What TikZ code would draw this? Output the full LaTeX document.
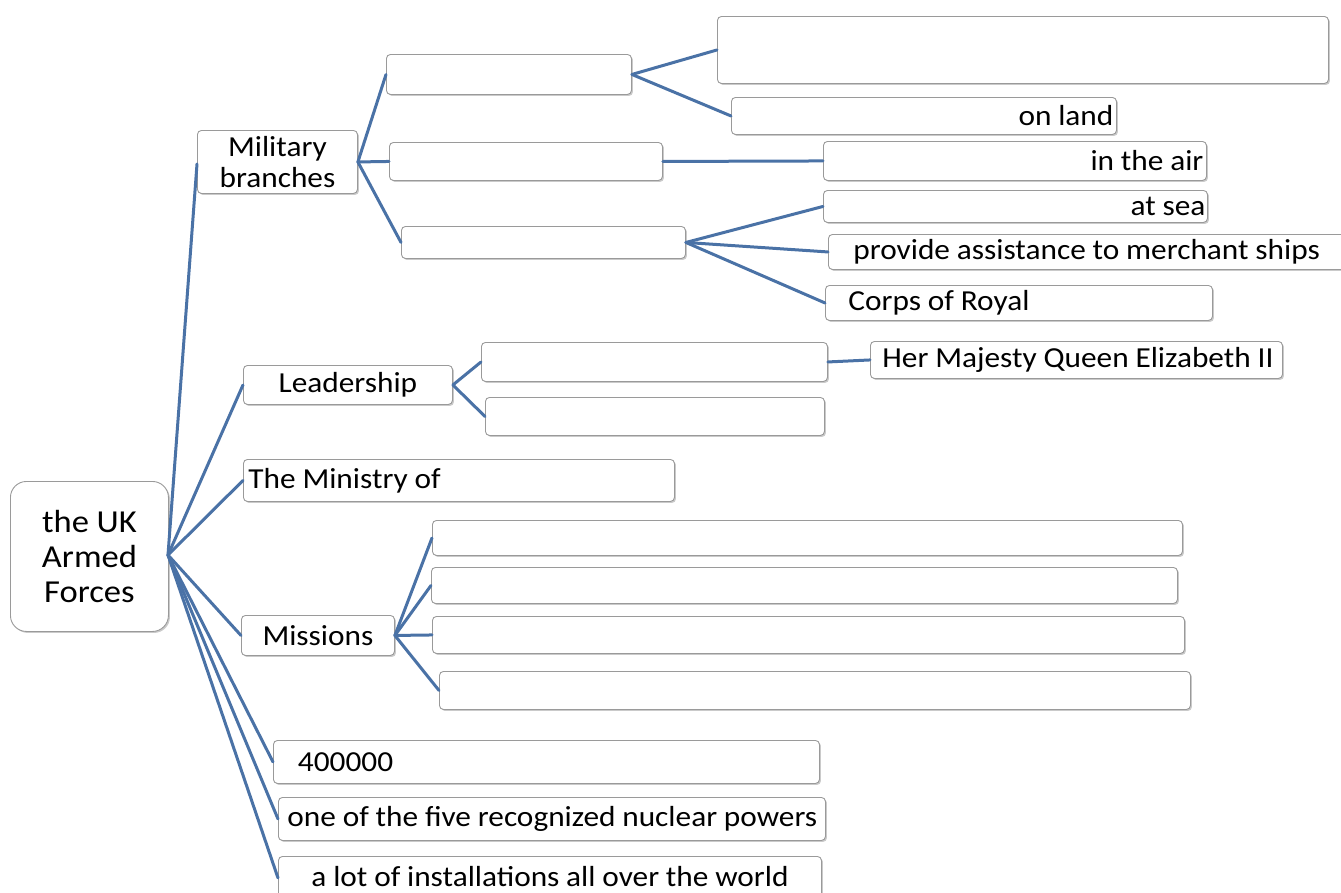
\documentclass[tikz,border=0pt]{standalone}
\usepackage{fontspec}
\setmainfont{Carlito}[FakeStretch=1.08]
\usetikzlibrary{shadows}
\definecolor{lnk}{HTML}{4A72A6}
\definecolor{bord}{HTML}{9A9A9A}
\newcommand{\tightsp}{\spaceskip=0.235em plus 0.02em minus 0.02em\relax}
\tikzset{
  bx/.style={draw=bord, line width=0.9pt, fill=white, rounded corners=4pt, anchor=north west,
    inner ysep=0pt, font=\fontsize{29}{31}\selectfont, execute at begin node={\tightsp},
    drop shadow={shadow xshift=1.5pt, shadow yshift=-1.5pt, fill=black!35, opacity=0.6}},
  lk/.style={draw=lnk, line width=3pt, line cap=round},
}
\begin{document}
\begin{tikzpicture}[x=1pt,y=-1pt]
\useasboundingbox (0,0) rectangle (1341,892);
% center
\node[bx, rounded corners=16pt, minimum width=158pt, minimum height=150pt, text width=140pt, inner xsep=9pt, align=center, font=\fontsize{32}{35}\selectfont] (c) at (10,481) {the UK\\Armed\\Forces};
% level 1
\node[bx, minimum width=160pt, minimum height=63pt, text width=150pt, inner xsep=5pt, align=center] (mb) at (197,130) {Military\\branches};
\node[bx, minimum width=209pt, minimum height=39pt, text width=199pt, inner xsep=5pt, align=center] (ld) at (243,365) {Leadership};
\node[bx, minimum width=431pt, minimum height=42pt, text width=421pt, inner xsep=5pt, align=left] (mo) at (243,459) {\mbox{The Ministry of}};
\node[bx, minimum width=153pt, minimum height=40pt, text width=143pt, inner xsep=5pt, align=center] (mi) at (241,615) {Missions};
\node[bx, minimum width=546pt, minimum height=43pt, text width=521pt, inner xsep=12.5pt, align=left] (n4) at (273,740) {\mbox{\hspace*{12pt}400000}};
\node[bx, minimum width=547pt, minimum height=43pt, text width=537pt, inner xsep=5pt, align=left] (nu) at (278,797) {\mbox{\hspace*{4pt}one of the five recognized nuclear powers}};
\node[bx, minimum width=543pt, minimum height=43pt, text width=533pt, inner xsep=5pt, align=left] (in) at (278,856) {\raisebox{3pt}{\hspace*{28pt}a lot of installations all over the world}};
% military branches children
\node[bx, minimum width=245pt, minimum height=40pt, text width=235pt, inner xsep=5pt] (a1) at (386,54) {};
\node[bx, minimum width=273pt, minimum height=38pt, text width=263pt, inner xsep=5pt] (a2) at (389,142) {};
\node[bx, minimum width=284pt, minimum height=32pt, text width=274pt, inner xsep=5pt] (a3) at (401,226) {};
% army children
\node[bx, minimum width=611pt, minimum height=67pt, text width=601pt, inner xsep=5pt] (big) at (717,16) {};
\node[bx, minimum width=385pt, minimum height=37pt, text width=379pt, inner xsep=3pt, align=right] (land) at (731,97) {\tightsp\mbox{on land}};
\node[bx, minimum width=383pt, minimum height=39pt, text width=377pt, inner xsep=3pt, align=right] (air) at (823,141) {\tightsp\mbox{in the air}};
\node[bx, minimum width=384pt, minimum height=32pt, text width=380pt, inner xsep=2pt, align=right] (sea) at (823,190) {\tightsp\mbox{at sea}};
\node[bx, minimum width=520pt, minimum height=35pt, text width=500pt, inner xsep=10pt, align=left] (pa) at (828,234) {\mbox{\hspace*{15pt}provide assistance to merchant ships}};
\node[bx, minimum width=387pt, minimum height=35pt, text width=367pt, inner xsep=10pt, align=left] (cr) at (825,285) {\mbox{\hspace*{13pt}Corps of Royal}};
% leadership children
\node[bx, minimum width=346pt, minimum height=39pt, text width=336pt, inner xsep=5pt] (l1) at (481,342) {};
\node[bx, minimum width=339pt, minimum height=38pt, text width=329pt, inner xsep=5pt] (l2) at (485,397) {};
\node[bx, minimum width=412pt, minimum height=37pt, text width=400pt, inner xsep=6pt, align=left] (hm) at (870,341) {\mbox{\hspace*{6pt}Her Majesty Queen Elizabeth II}};
% missions children
\node[bx, minimum width=750pt, minimum height=35pt, text width=740pt, inner xsep=5pt] (m1) at (432,520) {};
\node[bx, minimum width=746pt, minimum height=36pt, text width=736pt, inner xsep=5pt] (m2) at (431,567) {};
\node[bx, minimum width=752pt, minimum height=37pt, text width=742pt, inner xsep=5pt] (m3) at (432,616) {};
\node[bx, minimum width=751pt, minimum height=38pt, text width=741pt, inner xsep=5pt] (m4) at (439,671) {};
% connectors
\coordinate (cr0) at (168,555);
\draw[lk] (cr0) -- ([yshift=-2pt]mb.west);
\draw[lk] (cr0) -- (ld.west);
\draw[lk] (cr0) -- (mo.west);
\draw[lk] (cr0) -- (mi.west);
\draw[lk] (cr0) -- (n4.west);
\draw[lk] (cr0) -- (nu.west);
\draw[lk] (cr0) -- (in.west);
\draw[lk] (mb.east) -- (a1.west);
\draw[lk] (mb.east) -- (a2.west);
\draw[lk] (mb.east) -- (a3.west);
\draw[lk] (a1.east) -- (big.west);
\draw[lk] (a1.east) -- (land.west);
\draw[lk] (a2.east) -- (air.west);
\draw[lk] (a3.east) -- (sea.west);
\draw[lk] (a3.east) -- (pa.west);
\draw[lk] (a3.east) -- (cr.west);
\draw[lk] (ld.east) -- (l1.west);
\draw[lk] (ld.east) -- (l2.west);
\draw[lk] (l1.east) -- (hm.west);
\draw[lk] (mi.east) -- (m1.west);
\draw[lk] (mi.east) -- (m2.west);
\draw[lk] (mi.east) -- (m3.west);
\draw[lk] (mi.east) -- (m4.west);
\end{tikzpicture}
\end{document}
